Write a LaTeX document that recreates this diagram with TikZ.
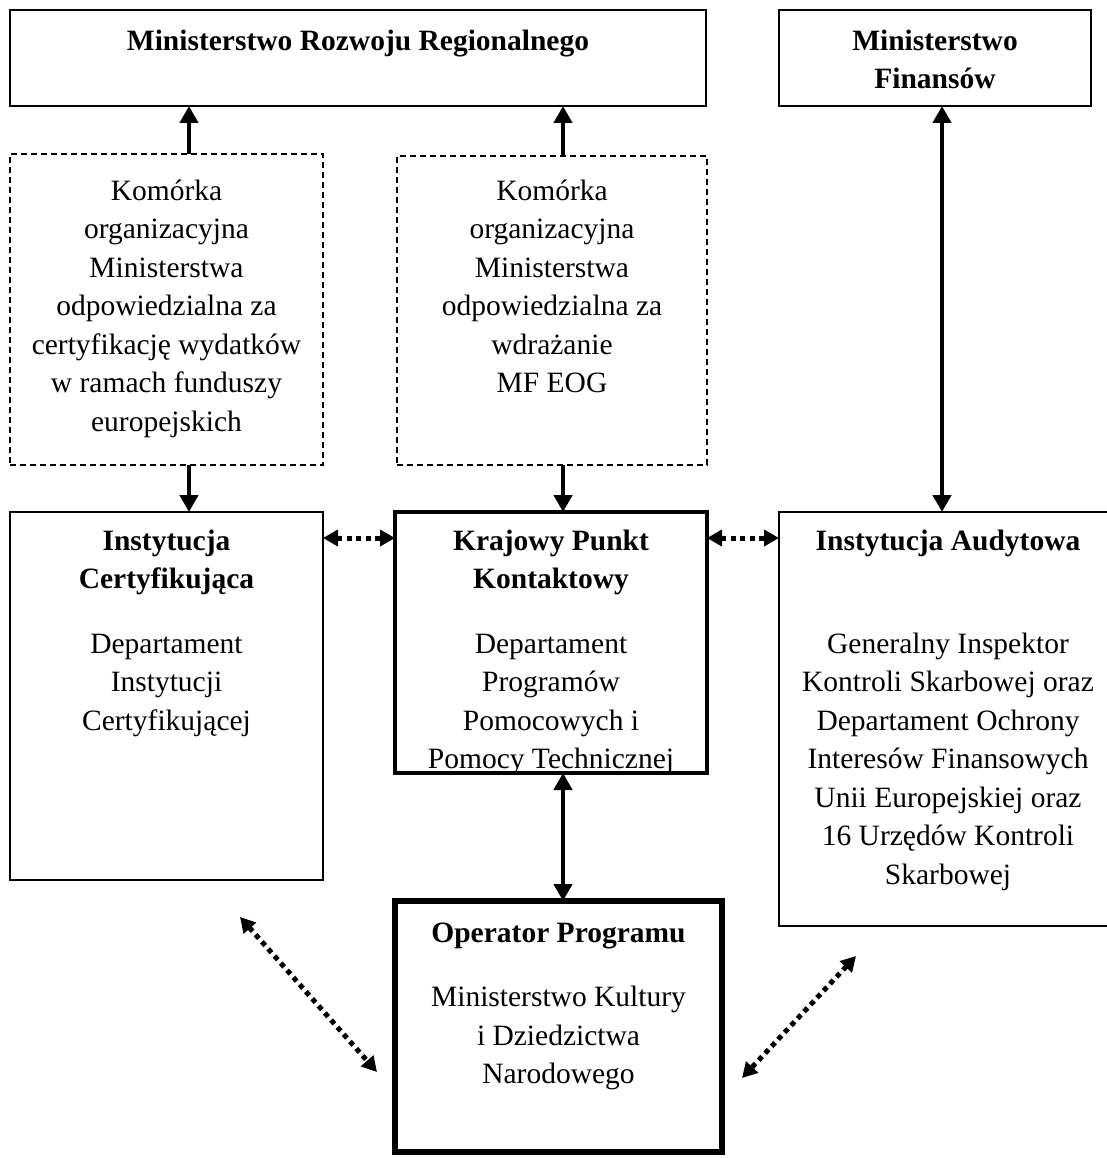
\documentclass[tikz,border=0pt]{standalone}
\usepackage{fontspec}
\setmainfont{Liberation Serif}
\usetikzlibrary{arrows.meta}
\begin{document}
\begin{tikzpicture}[x=1pt,y=-1pt,
  box/.style={draw, rectangle, inner sep=0pt, outer sep=0pt, anchor=north west, line width=1.6pt},
  dbox/.style={box, dash pattern=on 6pt off 4pt},
  txt/.style={anchor=north, inner sep=0pt, align=center, font=\fontsize{29.5}{38.5}\selectfont},
  arr/.style={line width=4.5pt, -{Triangle[width=18pt,length=17pt]}},
  darr/.style={line width=4.5pt, {Triangle[width=18pt,length=17pt]}-{Triangle[width=18pt,length=17pt]}},
  dotarr/.style={line width=5pt, dash pattern=on 5pt off 4.5pt, {Triangle[width=16pt,length=15pt]}-{Triangle[width=16pt,length=15pt]}}]
\useasboundingbox (0,0) rectangle (1107,1158);

% boxes
\node[box, minimum width=696pt, minimum height=96pt] (mrr) at (10,10) {};
\node[box, minimum width=312pt, minimum height=96pt] (mf) at (779,10) {};
\node[dbox, minimum width=313pt, minimum height=311pt] (d1) at (10,154) {};
\node[dbox, minimum width=310pt, minimum height=309pt] (d2) at (397,156) {};
\node[box, minimum width=313pt, minimum height=368pt] (ic) at (10,512) {};
\node[box, line width=3.6pt, minimum width=312pt, minimum height=261pt] (kpk) at (395,512) {};
\node[box, minimum width=338pt, minimum height=414pt] (ia) at (779,512) {};
\node[box, line width=6pt, minimum width=327pt, minimum height=251pt] (op) at (395,901) {};

% texts
\node[txt] (mrrt) at ([yshift=-13pt]mrr.north) {\strut\textbf{Ministerstwo Rozwoju Regionalnego}};
\node[txt] (mft) at ([yshift=-13pt]mf.north) {\strut\textbf{Ministerstwo}\\\textbf{Finansów}};
\node[txt] (d1t) at ([yshift=-19pt]d1.north) {\strut Komórka\\organizacyjna\\Ministerstwa\\odpowiedzialna za\\certyfikację wydatków\\w ramach funduszy\\europejskich};
\node[txt] (d2t) at ([yshift=-17pt]d2.north) {\strut Komórka\\organizacyjna\\Ministerstwa\\odpowiedzialna za\\wdrażanie\\MF EOG};
\node[txt] (ict) at ([yshift=-11pt]ic.north) {\strut\textbf{Instytucja}\\\textbf{Certyfikująca}\\[26pt]Departament\\Instytucji\\Certyfikującej};
\node[txt] (kpkt) at ([yshift=-11pt]kpk.north) {\strut\textbf{Krajowy Punkt}\\\textbf{Kontaktowy}\\[26pt]Departament\\Programów\\Pomocowych i\\Pomocy Technicznej};
\node[txt] (iat) at ([yshift=-11pt]ia.north) {\strut\textbf{Instytucja Audytowa}\\[64.5pt]Generalny Inspektor\\Kontroli Skarbowej oraz\\Departament Ochrony\\Interesów Finansowych\\Unii Europejskiej oraz\\16 Urzędów Kontroli\\Skarbowej};
\node[txt] (opt) at ([yshift=-14pt]op.north) {\strut\textbf{Operator Programu}\\[26pt]Ministerstwo Kultury\\i Dziedzictwa\\Narodowego};

% connector anchors
\coordinate (a1) at ([xshift=22.5pt]d1.north);
\coordinate (a2) at ([xshift=11pt]d2.north);
\coordinate (a3) at ([xshift=22.5pt]d1.south);
\coordinate (a4) at ([xshift=11pt]d2.south);
\coordinate (a5) at ([xshift=-6pt]ia.north);
\coordinate (a6) at ([xshift=12pt]kpk.south);
\coordinate (h1) at ([yshift=-26pt]ic.north east);
\coordinate (h2) at ([yshift=-26pt]kpk.north east);
\coordinate (g1) at (240,917);
\coordinate (g2) at (377,1072);
\coordinate (g3) at (856,956);
\coordinate (g4) at (742,1078);

% connectors
\draw[arr] (a1) -- (a1 |- mrr.south);
\draw[arr] (a2) -- (a2 |- mrr.south);
\draw[arr] (a3) -- (a3 |- ic.north);
\draw[arr] (a4) -- (a4 |- kpk.north);
\draw[darr] (a5 |- mf.south) -- (a5);
\draw[darr] (a6) -- (a6 |- op.north);
\draw[dotarr] (h1) -- (h1 -| kpk.west);
\draw[dotarr] (h2) -- (h2 -| ia.west);
\draw[dotarr] (g1) -- (g2);
\draw[dotarr] (g3) -- (g4);
\end{tikzpicture}
\end{document}
